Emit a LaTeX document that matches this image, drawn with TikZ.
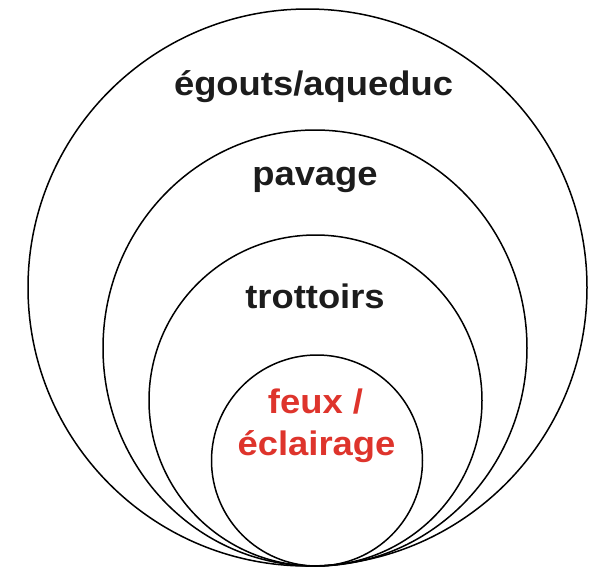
\documentclass[tikz,border=0pt]{standalone}
\usepackage{fontspec}
\setmainfont{Liberation Sans}[FakeStretch=1.07]
\definecolor{lampred}{RGB}{222,52,44}
\definecolor{inkblack}{RGB}{28,28,28}
\begin{document}
\begin{tikzpicture}[x=1pt,y=-1pt,
  ring/.style={draw=black,line width=1.5pt},
  lbl/.style={anchor=base,inner sep=0pt,font=\fontsize{34}{40}\selectfont\bfseries,text=inkblack},
  redlbl/.style={lbl,text=lampred}]
\useasboundingbox (0,0) rectangle (592,566);
\draw[ring] (307.5,287.5) ellipse [x radius=279.5pt, y radius=278.5pt];
\draw[ring] (315,348) ellipse [x radius=212pt, y radius=218pt];
\draw[ring] (315.5,400.5) ellipse [x radius=166.5pt, y radius=165.5pt];
\draw[ring] (317,460.5) ellipse [x radius=105.5pt, y radius=105.5pt];
\node[lbl] (egouts) at (313.5,95) {égouts/aqueduc};
\node[lbl] (pavage) at (315,185) {pavage};
\node[lbl] (trottoirs) at (315,308) {trottoirs};
\node[redlbl] (feux) at (315.5,413) {feux /};
\node[redlbl] (eclairage) at (316.5,455) {éclairage};
\end{tikzpicture}
\end{document}
